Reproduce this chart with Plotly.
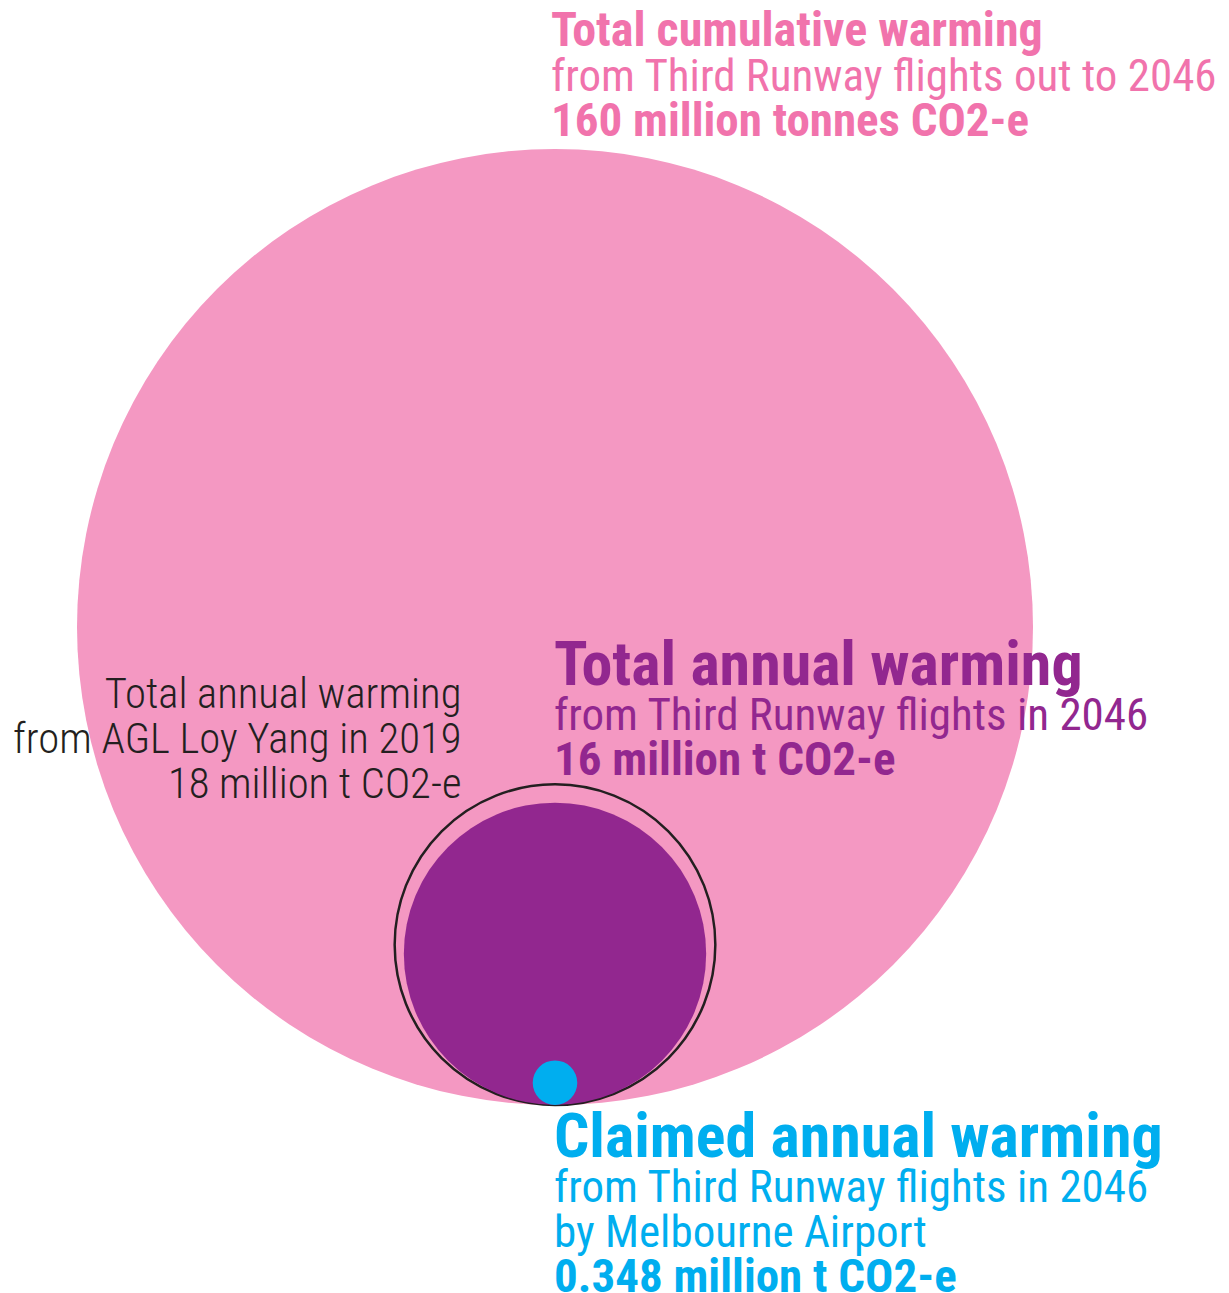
import math
import plotly.graph_objects as go

# ---- data ----
labels = ["Total cumulative warming", "Total annual warming (AGL Loy Yang 2019)",
          "Total annual warming (Third Runway 2046)", "Claimed annual warming"]
values = [160, 18, 16, 0.348]  # million tonnes CO2-e
fills = ["#F498C2", "rgba(0,0,0,0)", "#92278F", "#00AEEF"]
lines = ["rgba(0,0,0,0)", "#231F20", "rgba(0,0,0,0)", "rgba(0,0,0,0)"]

W, H = 1229, 1293
cx, base_y = 555, 1105
k = 478 / math.sqrt(values[0])

fig = go.Figure()
shapes = []
for v, f, l in zip(values, fills, lines):
    r = k * math.sqrt(v)
    shapes.append(dict(type="circle", xref="x", yref="y",
                       x0=cx - r, x1=cx + r, y0=base_y - 2 * r, y1=base_y,
                       fillcolor=f, line=dict(color=l, width=2.5 if l != lines[0] else 0),
                       layer="below"))

FONT = "Roboto Condensed, Liberation Sans Narrow, DejaVu Sans Condensed, sans-serif"
PINK = "#F173AC"
PURPLE = "#92278F"
BLUE = "#00AEEF"
BLACK = "#231F20"

LINE_GAP = 45.0               # baseline-to-baseline distance in px
BASE = LINE_GAP / 1.3         # plotly line spacing is 1.3 em of the base size
REG, BOLD, TITLE, BLK = 45, 47, 62, 42.7
ASC, DESC = 0.927, 0.244      # Roboto ascent / descent (em)

def span(s, size, bold=False):
    t = f"<span style='font-size:{size}px'>{s}</span>"
    return f"<b>{t}</b>" if bold else t

def block(x, baseline1, parts, color, anchor="left", weight=None):
    text = "<br>".join(span(*p) for p in parts)
    s1 = parts[0][1]
    y_top = baseline1 - ASC * s1 - 1
    font = dict(family=FONT, size=BASE, color=color)
    if weight is not None:
        font["weight"] = weight
    return dict(x=x, y=1 - y_top / H, xref="x", yref="paper", text=text,
                showarrow=False, xanchor=anchor, yanchor="top", align=anchor,
                font=font)

anns = [
    block(549, 44, [("Total cumulative warming", BOLD + 1, True),
                    ("from Third Runway flights out to 2046", REG),
                    (f"{values[0]:g} million tonnes CO2-e", BOLD, True)], PINK),
    block(552, 683, [("Total annual warming", TITLE, True),
                     ("from Third Runway flights in 2046", REG),
                     (f"{values[2]:g} million t CO2-e", BOLD, True)], PURPLE),
    block(463, 707, [("Total annual warming", BLK),
                     ("from AGL Loy Yang in 2019", BLK),
                     (f"{values[1]:g} million t CO2-e", BLK)], BLACK,
          anchor="right", weight=300),
    block(552, 1155, [("Claimed annual warming", TITLE, True),
                      ("from Third Runway flights in 2046", REG),
                      ("by Melbourne Airport", REG),
                      (f"{values[3]:g} million t CO2-e", BOLD, True)], BLUE),
]

fig.update_layout(width=W, height=H, margin=dict(l=0, r=0, t=0, b=0),
                  paper_bgcolor="white", plot_bgcolor="white",
                  shapes=shapes, annotations=anns, showlegend=False,
                  xaxis=dict(range=[0, W], visible=False, fixedrange=True),
                  yaxis=dict(range=[H, 0], visible=False, fixedrange=True))
fig.write_html("out.html", config={"displayModeBar": False},
               post_script="document.body.style.margin='0';document.body.style.overflow='hidden';")
